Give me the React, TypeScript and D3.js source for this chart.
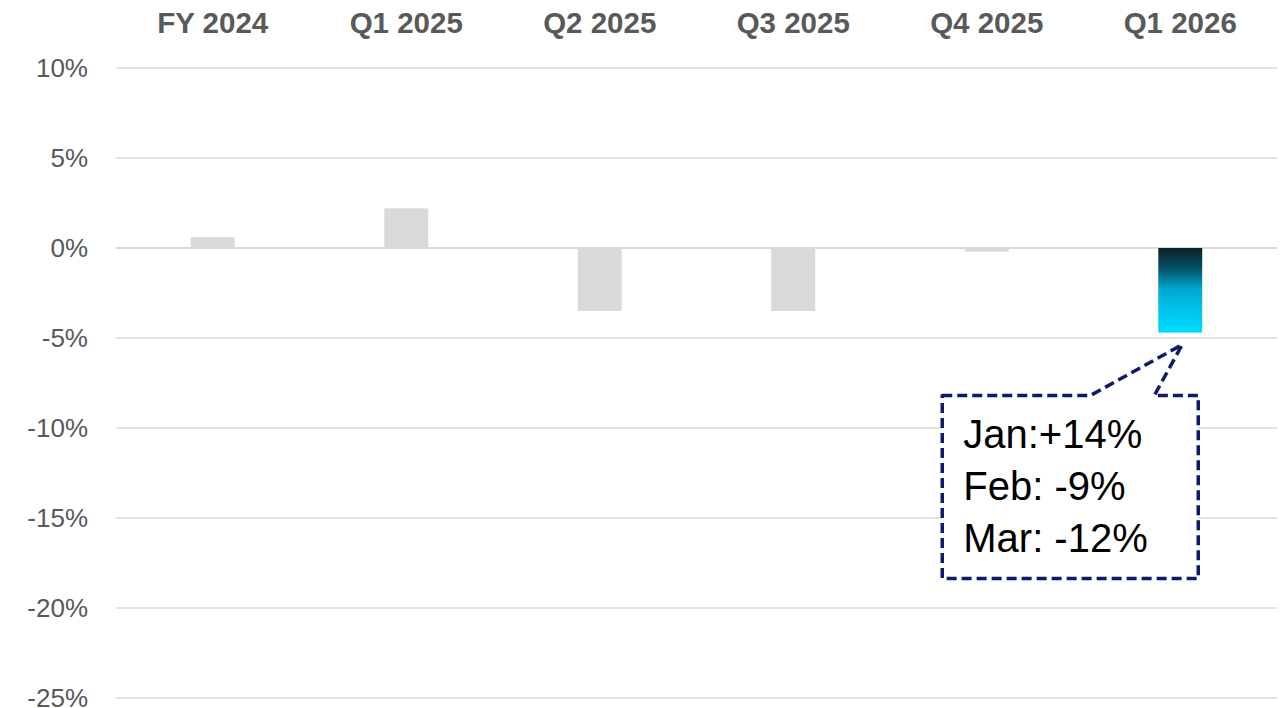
import React from "react";
import * as d3 from "d3";

const categories = ["FY 2024", "Q1 2025", "Q2 2025", "Q3 2025", "Q4 2025", "Q1 2026"];
const values = [0.6, 2.2, -3.5, -3.5, -0.2, -4.7];
const yTicks = [10, 5, 0, -5, -10, -15, -20, -25];
const calloutLines = ["Jan:+14%", "Feb: -9%", "Mar: -12%"];

const W = 1285;
const H = 708;

export default function App() {
  const x = d3
    .scaleBand<string>()
    .domain(categories)
    .range([116, 1277])
    .paddingInner(0.773)
    .paddingOuter(0.3865);
  const y = d3.scaleLinear().domain([-25, 10]).range([698, 68]);
  const last = categories[categories.length - 1];
  const lastIdx = categories.length - 1;
  const cx = (x(last) as number) + x.bandwidth() / 2;
  const tipY = y(values[lastIdx]) + 12;
  const boxTop = tipY + 51;
  const boxLeft = cx - 238;
  const boxRight = cx + 18;
  const boxBottom = boxTop + 183;
  const path = d3.path();
  path.moveTo(boxLeft, boxTop);
  path.lineTo(cx - 90, boxTop);
  path.lineTo(cx + 2, tipY);
  path.lineTo(cx - 26, boxTop);
  path.lineTo(boxRight, boxTop);
  path.lineTo(boxRight, boxBottom);
  path.lineTo(boxLeft, boxBottom);
  path.closePath();

  return (
    <svg
      width={W}
      height={H}
      style={{ position: "absolute", left: 0, top: 0, background: "#fff" }}
      fontFamily="'Liberation Sans', Arial, sans-serif"
    >
      <defs>
        <linearGradient id="barGrad" x1="0" y1="0" x2="0" y2="1">
          <stop offset="0%" stopColor="#0b1f28" />
          <stop offset="25%" stopColor="#05536a" />
          <stop offset="48%" stopColor="#00a6cf" />
          <stop offset="68%" stopColor="#00bde6" />
          <stop offset="100%" stopColor="#00dbff" />
        </linearGradient>
      </defs>
      {yTicks.map((t) => (
        <g key={t}>
          <line
            x1={116}
            x2={1277}
            y1={y(t)}
            y2={y(t)}
            stroke="#d9d9d9"
            strokeWidth={t === 0 ? 2 : 1.5}
          />
          <text x={88} y={y(t) + 8.5} textAnchor="end" fontSize={26} fill="#595959">
            {t + "%"}
          </text>
        </g>
      ))}
      {categories.map((c, i) => {
        const v = values[i];
        const y0 = y(Math.max(0, v));
        const h = Math.abs(y(v) - y(0));
        return (
          <g key={c}>
            <rect
              x={x(c)}
              y={y0}
              width={x.bandwidth()}
              height={h}
              fill={i === lastIdx ? "url(#barGrad)" : "#d9d9d9"}
            />
            <text
              x={(x(c) as number) + x.bandwidth() / 2}
              y={33}
              textAnchor="middle"
              fontSize={29.5}
              fontWeight="bold"
              fill="#595959"
            >
              {c}
            </text>
          </g>
        );
      })}
      <path
        d={path.toString()}
        fill="#fff"
        stroke="#0e1a6b"
        strokeWidth={3.5}
        strokeDasharray="10 5"
        strokeLinejoin="round"
      />
      {calloutLines.map((l, i) => (
        <text key={l} x={boxLeft + 21} y={boxTop + 52 + i * 52} fontSize={40} fill="#000">
          {l}
        </text>
      ))}
    </svg>
  );
}
